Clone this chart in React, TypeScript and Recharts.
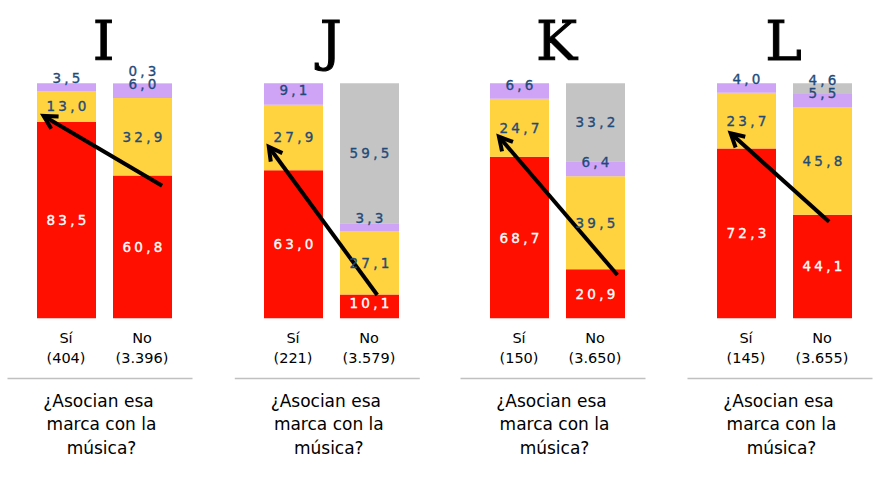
import React from "react";
import { BarChart, Bar, XAxis, YAxis, LabelList, ReferenceLine } from "recharts";

const panels = ["I", "J", "K", "L"];
const categories = ["Sí", "No"];
const counts = [
  ["404", "3.396"],
  ["221", "3.579"],
  ["150", "3.650"],
  ["145", "3.655"],
];
// percentages per panel: [Sí, No]
const red = [[83.5, 60.8], [63.0, 10.1], [68.7, 20.9], [72.3, 44.1]];
const yellow = [[13.0, 32.9], [27.9, 27.1], [24.7, 39.5], [23.7, 45.8]];
const purple = [[3.5, 6.0], [9.1, 3.3], [6.6, 6.4], [4.0, 5.5]];
const gray = [[0, 0.3], [0, 59.5], [0, 33.2], [0, 4.6]];
// arrow from "No" bar to "Sí" bar, in % of the axis
const arrowFrom = [56.4, 9.9, 18.4, 41.1];
const arrowTo = [86.1, 73.0, 77.3, 78.7];
const caption = ["¿Asocian esa", "marca con la", "música?"];

const COLORS = { red: "#FF0F00", yellow: "#FFD23F", purple: "#CFA3F5", gray: "#C4C4C4" };
const LABEL_BLUE = "#1F4B7A";
const BAR = 59;
const PLOT_W = 152;
const TOP = 83.3;
const BOTTOM = 318.3;
const PANEL_LEFT = [27.5, 254.8, 480.5, 707.5];
// arrow end offsets from the bar centres, as share of bar width
const ARROW_DX = [
  [0.34, -0.38],
  [0.14, -0.41],
  [0.38, -0.34],
  [0.12, -0.26],
];

const fmt = (v: number) => v.toFixed(1).replace(".", ",");

function makeLabel(color: string) {
  return (props: any) => {
    const vb = props.viewBox ?? props;
    const { x, y, width, height } = vb;
    const v = Number(props.value);
    if (!v) return null;
    const h = Math.abs(height);
    const cy = y + Math.min(h / 2, (h - 14) * 0.9);
    return (
      <text
        x={x + width / 2 + 1.5}
        y={cy + 5}
        textAnchor="middle"
        fill={color}
        stroke={color}
        strokeWidth={0.35}
        fontFamily="DejaVu Sans"
        fontSize={13.5}
        letterSpacing={3.2}
      >
        {fmt(v)}
      </text>
    );
  };
}

function CatTick(props: any) {
  const { x, y, payload, index, panel } = props;
  return (
    <g>
      <text x={x} y={y + 25} textAnchor="middle" fontFamily="DejaVu Sans" fontSize={14.5} fill="#000">
        {payload.value}
      </text>
      <text x={x} y={y + 45} textAnchor="middle" fontFamily="DejaVu Sans" fontSize={14.5} fill="#000">
        ({counts[panel][index]})
      </text>
    </g>
  );
}

function makeArrow(p: number) {
  return (props: any) => {
    const { x1, y1, x2, y2 } = props;
    const sx = x1 + ARROW_DX[p][0] * BAR;
    const ex = x2 + ARROW_DX[p][1] * BAR;
    const sy = y1;
    const ey = y2;
    const a = Math.atan2(ey - sy, ex - sx);
    const L = 15;
    const spread = 0.5;
    const h1x = ex - L * Math.cos(a - spread);
    const h1y = ey - L * Math.sin(a - spread);
    const h2x = ex - L * Math.cos(a + spread);
    const h2y = ey - L * Math.sin(a + spread);
    return (
      <g>
        <line x1={sx} y1={sy} x2={ex - 1.5 * Math.cos(a)} y2={ey - 1.5 * Math.sin(a)} stroke="#000" strokeWidth={4} />
        <polyline
          points={`${h1x},${h1y} ${ex},${ey} ${h2x},${h2y}`}
          fill="none"
          stroke="#000"
          strokeWidth={4}
          strokeLinejoin="miter"
        />
      </g>
    );
  };
}

function Panel({ p }: { p: number }) {
  const rows = categories.map((cat, i) => ({
    cat,
    red: red[p][i],
    yellow: yellow[p][i],
    purple: purple[p][i],
    gray: gray[p][i],
  }));
  return (
    <div style={{ position: "absolute", left: PANEL_LEFT[p], top: 0 }}>
      <BarChart
        width={PLOT_W}
        height={485}
        data={rows}
        margin={{ top: TOP, right: 0, left: 0, bottom: 485 - BOTTOM - 40 }}
        barGap={0}
        barCategoryGap={0}
        style={{ overflow: "visible" }}
      >
        <XAxis
          dataKey="cat"
          axisLine={false}
          tickLine={false}
          tickSize={0}
          tickMargin={0}
          height={40}
          interval={0}
          tick={<CatTick panel={p} />}
        />
        <YAxis hide domain={[0, 100]} />
        <Bar dataKey="red" stackId="s" fill={COLORS.red} barSize={BAR} isAnimationActive={false}>
          <LabelList dataKey="red" content={makeLabel("#FFFFFF")} />
        </Bar>
        <Bar dataKey="yellow" stackId="s" fill={COLORS.yellow} barSize={BAR} isAnimationActive={false}>
          <LabelList dataKey="yellow" content={makeLabel(LABEL_BLUE)} />
        </Bar>
        <Bar dataKey="purple" stackId="s" fill={COLORS.purple} barSize={BAR} isAnimationActive={false}>
          <LabelList dataKey="purple" content={makeLabel(LABEL_BLUE)} />
        </Bar>
        <Bar dataKey="gray" stackId="s" fill={COLORS.gray} barSize={BAR} isAnimationActive={false}>
          <LabelList dataKey="gray" content={makeLabel(LABEL_BLUE)} />
        </Bar>
        <ReferenceLine
          segment={[
            { x: "No", y: arrowFrom[p] },
            { x: "Sí", y: arrowTo[p] },
          ]}
          ifOverflow="visible"
          shape={makeArrow(p)}
        />
      </BarChart>
    </div>
  );
}

export default function App() {
  return (
    <div style={{ position: "absolute", left: 0, top: 0, width: 888, height: 485, background: "#fff" }}>
      <svg width={888} height={485} style={{ position: "absolute", left: 0, top: 0 }}>
        {panels.map((name, p) => {
          const sLeft = PANEL_LEFT[p] + (PLOT_W / 2 - BAR) / 2;
          const centre = PANEL_LEFT[p] + PLOT_W / 2;
          return (
            <g key={name}>
              <text
                x={centre}
                y={60}
                textAnchor="middle"
                fontFamily="DejaVu Serif"
                fontSize={55}
                fill="#000"
                stroke="#000"
                strokeWidth={1}
              >
                {name}
              </text>
              <line x1={sLeft - 28.5} x2={sLeft + 156.5} y1={378.5} y2={378.5} stroke="#C0C0C0" strokeWidth={1.5} />
              {caption.map((line, k) => (
                <text
                  key={k}
                  x={centre - 2 + (k === 0 ? -3 : 0)}
                  y={407 + k * 23.3}
                  textAnchor="middle"
                  fontFamily="DejaVu Sans"
                  fontSize={17}
                  fill="#000"
                >
                  {line}
                </text>
              ))}
            </g>
          );
        })}
      </svg>
      {panels.map((name, p) => (
        <Panel key={name} p={p} />
      ))}
    </div>
  );
}
